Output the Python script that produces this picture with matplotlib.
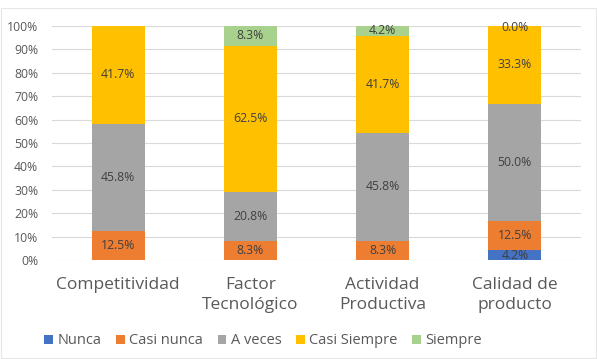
import matplotlib.pyplot as plt
from matplotlib.patches import Rectangle

plt.rcParams['font.family'] = ['Open Sans', 'DejaVu Sans']

categories = ['Competitividad', 'Factor\nTecnológico', 'Actividad\nProductiva', 'Calidad de\nproducto']
series = ['Nunca', 'Casi nunca', 'A veces', 'Casi Siempre', 'Siempre']
nunca = [0.0, 0.0, 0.0, 4.2]
casi_nunca = [12.5, 8.3, 8.3, 12.5]
a_veces = [45.8, 20.8, 45.8, 50.0]
casi_siempre = [41.7, 62.5, 41.7, 33.3]
siempre = [0.0, 8.3, 4.2, 0.0]
# etiquetas en cero que sí aparecen en el original
zero_labels = [(3, 4)]

colors = ['#4472C4', '#ED7D31', '#A5A5A5', '#FFC000', '#A9D18E']
values = [nunca, casi_nunca, a_veces, casi_siempre, siempre]

fig = plt.figure(figsize=(5.97, 3.59), dpi=100)
ax = fig.add_axes([52 / 597, 1 - 260 / 359, 529 / 597, 234 / 359])

x = list(range(len(categories)))
bottom = [0.0] * len(categories)
for s, (name, vals, col) in enumerate(zip(series, values, colors)):
    ax.bar(x, vals, 0.4, bottom=bottom, color=col, label=name, zorder=2)
    for i, v in enumerate(vals):
        if v > 0 or (i, s) in zero_labels:
            yc = bottom[i] + v / 2
            if v == 0:
                yc = bottom[i] - 0.8
            ax.text(i, yc, f'{v:.1f}%', ha='center', va='center',
                    fontsize=8.8, color='#404040', zorder=3)
    bottom = [b + v for b, v in zip(bottom, vals)]

ax.set_xlim(-0.5, 3.5)
ax.set_ylim(0, 100)
ax.set_yticks(range(0, 101, 10))
ax.set_yticklabels([f'{t}%' for t in range(0, 101, 10)])
ax.set_xticks(x)
ax.set_xticklabels(categories, fontsize=12.5, color='#595959', linespacing=1.4)
ax.tick_params(axis='y', labelsize=8.8, colors='#595959', length=0, pad=10)
ax.tick_params(axis='x', length=0, pad=12)
ax.grid(axis='y', color='#D9D9D9', linewidth=0.8, zorder=0)
for sp in ax.spines.values():
    sp.set_visible(False)

leg = fig.legend(loc='center', bbox_to_anchor=(263 / 597, 1 - 341 / 359), ncol=5,
                 frameon=False, fontsize=10.5, handlelength=0.6, handleheight=0.6,
                 handletextpad=0.3, columnspacing=1.0)
for t in leg.get_texts():
    t.set_color('#595959')

fig.patches.append(Rectangle((0.002, 0.002), 0.996, 0.975, transform=fig.transFigure,
                             fill=False, edgecolor='#E6E6E6', linewidth=0.8))

fig.savefig('out.png', dpi=100)
